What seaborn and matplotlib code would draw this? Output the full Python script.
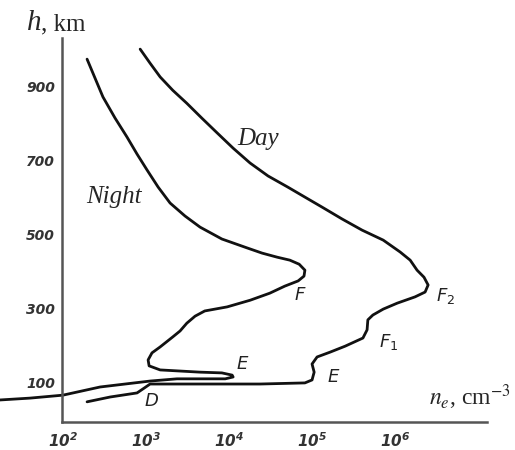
import numpy as np
import pandas as pd
import matplotlib
matplotlib.use("Agg")
import matplotlib.pyplot as plt
import seaborn as sns

# ---- data (electron density profile) ----
night_ne = [1.95e2, 2.43e2, 3.03e2, 4.24e2, 5.9e2, 7.8e2, 1.03e3, 1.40e3, 1.95e3, 2.95e3,
            4.48e3, 8.2e3, 1.65e4, 2.5e4, 3.8e4, 5.4e4, 7.0e4, 8.2e4, 8.0e4, 6.8e4,
            4.7e4, 3.1e4, 1.8e4, 9.5e3, 5.1e3, 3.9e3, 3.1e3, 2.57e3, 2.1e3, 1.48e3,
            1.18e3, 1.06e3, 1.09e3, 1.48e3, 4.48e3, 8.2e3, 1.09e4, 1.12e4, 9.0e3, 2.36e3,
            1.12e3, 2.8e2, 1.0e2, 4.0e1, 1.74e1]
night_h = [973, 922, 871, 814, 763, 717, 674, 628, 585, 550,
           520, 488, 464, 450, 439, 431, 420, 404, 388, 375,
           361, 342, 323, 305, 294, 280, 261, 240, 224, 197,
           181, 162, 146, 135, 129, 127, 121, 116, 111, 111,
           105, 89, 67, 59, 54]

day_ne = [8.5e2, 1.12e3, 1.48e3, 2.1e3, 3.1e3, 4.7e3, 7.2e3, 1.12e4, 1.79e4, 2.95e4,
          5.1e4, 8.2e4, 1.32e5, 2.3e5, 4.0e5, 7.2e5, 1.15e6, 1.52e6, 1.84e6, 2.23e6,
          2.5e6, 2.3e6, 1.74e6, 1.06e6, 7.2e5, 5.4e5, 4.7e5, 4.6e5, 4.1e5, 2.5e5,
          1.65e5, 1.15e5, 1.0e5, 1.06e5, 1.0e5, 8.2e4, 2.36e4, 4.48e3, 1.12e3, 9.5e2,
          7.8e2, 3.7e2, 1.95e2]
day_h = [1000, 962, 925, 889, 854, 814, 774, 733, 693, 658,
         628, 601, 574, 542, 512, 485, 453, 431, 404, 385,
         364, 345, 332, 315, 299, 283, 270, 243, 221, 199,
         183, 170, 151, 129, 108, 100, 97, 97, 97, 86,
         73, 62, 49]

y_ticks = [100, 300, 500, 700, 900]
y_tick_labels = ["100", "300", "500", "700", "900"]
x_ticks = [1e2, 1e3, 1e4, 1e5, 1e6]
x_tick_labels = [r"$10^{2}$", r"$10^{3}$", r"$10^{4}$", r"$10^{5}$", r"$10^{6}$"]

df = pd.concat([
    pd.DataFrame({"ne": night_ne, "h": night_h, "phase": "Night"}),
    pd.DataFrame({"ne": day_ne, "h": day_h, "phase": "Day"}),
], ignore_index=True)

sns.set_style("white")
plt.rcParams["font.family"] = ["DejaVu Sans"]
plt.rcParams["mathtext.fontset"] = "custom"
plt.rcParams["mathtext.it"] = "DejaVu Sans:italic:bold"
plt.rcParams["mathtext.rm"] = "DejaVu Sans:italic:bold"

W, H = 515, 450
fig = plt.figure(figsize=(W / 100, H / 100), dpi=100)
ax = fig.add_axes([62 / W, 1 - 422 / H, (487 - 62) / W, (422 - 38) / H])

sns.lineplot(data=df, x="ne", y="h", hue="phase",
             palette={"Night": "#111111", "Day": "#111111"},
             sort=False, estimator=None, legend=False, ax=ax,
             linewidth=2.0)
for ln in ax.lines:
    ln.set_clip_on(False)
    ln.set_solid_joinstyle("round")
    ln.set_solid_capstyle("round")

ax.set_xscale("log")
ax.set_xlim(97.3, 1.28e7)
ax.set_ylim(-5.4, 1030)
ax.set_xlabel("")
ax.set_ylabel("")
ax.minorticks_off()
ax.set_xticks(x_ticks)
ax.set_xticklabels(x_tick_labels)
ax.set_yticks(y_ticks)
ax.set_yticklabels(y_tick_labels)

for s in ["top", "right"]:
    ax.spines[s].set_visible(False)
for s in ["left", "bottom"]:
    ax.spines[s].set_color("#555555")
    ax.spines[s].set_linewidth(1.8)

ax.tick_params(axis="y", direction="out", length=4, width=1.2, colors="#444444",
               pad=1, labelsize=10)
ax.tick_params(axis="x", direction="inout", length=5, width=1.2, colors="#444444",
               pad=4, labelsize=11)
for lab in ax.get_yticklabels():
    lab.set_fontstyle("italic")
    lab.set_fontweight("bold")
    lab.set_color("#333333")
for lab in ax.get_xticklabels():
    lab.set_color("#333333")


def fx(x):
    return x / W


def fy(y):
    return 1 - y / H


serif = ["Liberation Serif", "DejaVu Serif"]
fig.text(fx(27), fy(30), "h", family=serif, style="italic", fontsize=21,
         va="baseline", ha="left")
fig.text(fx(41), fy(30), ", km", family=serif, fontsize=18, va="baseline", ha="left")
fig.text(fx(429), fy(405), r"$n_e$, cm$^{-3}$", family=serif, fontsize=17,
         va="baseline", ha="left", math_fontfamily="stix")
fig.text(fx(237), fy(145), "Day", family=serif, style="italic", fontsize=18,
         va="baseline", ha="left")
fig.text(fx(86), fy(203), "Night", family=serif, style="italic", fontsize=18,
         va="baseline", ha="left")

lab_kw = dict(fontsize=13, style="italic", color="#222222", ha="center",
              va="center", math_fontfamily="dejavusans")
fig.text(fx(300), fy(295), "F", **lab_kw)
fig.text(fx(446), fy(296), r"$F_2$", **lab_kw)
fig.text(fx(389), fy(342), r"$F_1$", **lab_kw)
fig.text(fx(333), fy(377), "E", **lab_kw)
fig.text(fx(242), fy(364), "E", **lab_kw)
fig.text(fx(151), fy(401), "D", **lab_kw)

fig.savefig("out.png", dpi=100)
